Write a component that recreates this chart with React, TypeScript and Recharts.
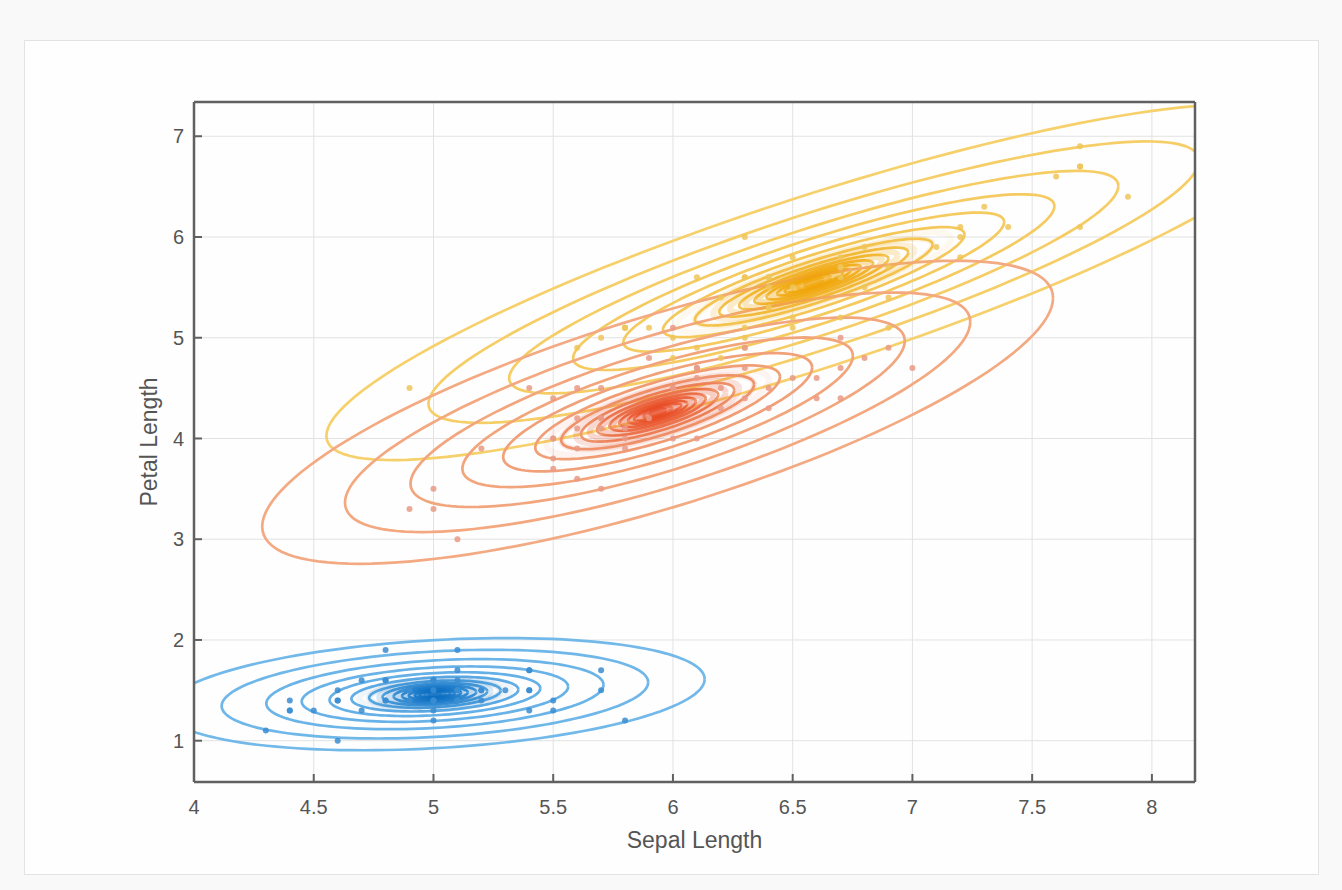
import { ComposedChart, Line, Scatter, XAxis, YAxis, CartesianGrid } from 'recharts';

// axis ticks
const xTicks = [4, 4.5, 5, 5.5, 6, 6.5, 7, 7.5, 8];
const yTicks = [1, 2, 3, 4, 5, 6, 7];

// iris measurements (sepal length, petal length) per species
const setosaSepal = [5.1, 4.9, 4.7, 4.6, 5.0, 5.4, 4.6, 5.0, 4.4, 4.9, 5.4, 4.8, 4.8, 4.3, 5.8, 5.7, 5.4, 5.1, 5.7, 5.1, 5.4, 5.1, 4.6, 5.1, 4.8, 5.0, 5.0, 5.2, 5.2, 4.7, 4.8, 5.4, 5.2, 5.5, 4.9, 5.0, 5.5, 4.9, 4.4, 5.1, 5.0, 4.5, 4.4, 5.0, 5.1, 4.8, 5.1, 4.6, 5.3, 5.0];
const setosaPetal = [1.4, 1.4, 1.3, 1.5, 1.4, 1.7, 1.4, 1.5, 1.4, 1.5, 1.5, 1.6, 1.4, 1.1, 1.2, 1.5, 1.3, 1.4, 1.7, 1.5, 1.7, 1.5, 1.0, 1.7, 1.9, 1.6, 1.6, 1.5, 1.4, 1.6, 1.6, 1.5, 1.5, 1.4, 1.5, 1.2, 1.3, 1.4, 1.3, 1.5, 1.3, 1.3, 1.3, 1.6, 1.9, 1.4, 1.6, 1.4, 1.5, 1.4];
const versicolorSepal = [7.0, 6.4, 6.9, 5.5, 6.5, 5.7, 6.3, 4.9, 6.6, 5.2, 5.0, 5.9, 6.0, 6.1, 5.6, 6.7, 5.6, 5.8, 6.2, 5.6, 5.9, 6.1, 6.3, 6.1, 6.4, 6.6, 6.8, 6.7, 6.0, 5.7, 5.5, 5.5, 5.8, 6.0, 5.4, 6.0, 6.7, 6.3, 5.6, 5.5, 5.5, 6.1, 5.8, 5.0, 5.6, 5.7, 5.7, 6.2, 5.1, 5.7];
const versicolorPetal = [4.7, 4.5, 4.9, 4.0, 4.6, 4.5, 4.7, 3.3, 4.6, 3.9, 3.5, 4.2, 4.0, 4.7, 3.6, 4.4, 4.5, 4.1, 4.5, 3.9, 4.8, 4.0, 4.9, 4.7, 4.3, 4.4, 4.8, 5.0, 4.5, 3.5, 3.8, 3.7, 3.9, 5.1, 4.5, 4.5, 4.7, 4.4, 4.1, 4.0, 4.4, 4.6, 4.0, 3.3, 4.2, 4.2, 4.2, 4.3, 3.0, 4.1];
const virginicaSepal = [6.3, 5.8, 7.1, 6.3, 6.5, 7.6, 4.9, 7.3, 6.7, 7.2, 6.5, 6.4, 6.8, 5.7, 5.8, 6.4, 6.5, 7.7, 7.7, 6.0, 6.9, 5.6, 7.7, 6.3, 6.7, 7.2, 6.2, 6.1, 6.4, 7.2, 7.4, 7.9, 6.4, 6.3, 6.1, 7.7, 6.3, 6.4, 6.0, 6.9, 6.7, 6.9, 5.8, 6.8, 6.7, 6.7, 6.3, 6.5, 6.2, 5.9];
const virginicaPetal = [6.0, 5.1, 5.9, 5.6, 5.8, 6.6, 4.5, 6.3, 5.8, 6.1, 5.1, 5.3, 5.5, 5.0, 5.1, 5.3, 5.5, 6.7, 6.9, 5.0, 5.7, 4.9, 6.7, 4.9, 5.7, 6.0, 4.8, 4.9, 5.6, 5.8, 6.1, 6.4, 5.6, 5.1, 5.6, 6.1, 5.6, 5.5, 4.8, 5.4, 5.6, 5.1, 5.1, 5.9, 5.7, 5.2, 5.0, 5.2, 5.4, 5.1];

// fitted gaussian per cluster (order: setosa, versicolor, virginica)
const meanSepal = [5.006, 5.936, 6.588];
const meanPetal = [1.462, 4.26, 5.552];
const sdSepal = [0.352, 0.516, 0.636];
const sdPetal = [0.174, 0.47, 0.552];
const correlation = [0.267, 0.754, 0.864];

// contour levels as mahalanobis radii
const contourRadii = [3.2, 2.53, 2.0, 1.58, 1.25, 0.99, 0.78, 0.62, 0.49, 0.39, 0.31, 0.24, 0.19];
const coreRadii = [0.9, 0.78, 0.66, 0.55, 0.45, 0.36, 0.28, 0.21, 0.15, 0.1, 0.05];

const ringOuter = ['#72b9ea', '#f3aa82', '#f6d06a'];
const ringInner = ['#4a9ddd', '#ee9066', '#f3bd46'];
const coreColor = ['#0a6dc3', '#e8421c', '#f0a300'];
const dotColor = ['#3a8dd2', '#e99a86', '#efc65a'];

const points = [
  setosaSepal.map((x, i) => ({ x, y: setosaPetal[i] })),
  versicolorSepal.map((x, i) => ({ x, y: versicolorPetal[i] })),
  virginicaSepal.map((x, i) => ({ x, y: virginicaPetal[i] })),
];

function ellipse(k: number, r: number) {
  const pts: { x: number; y: number }[] = [];
  const rho = correlation[k];
  const c = Math.sqrt(1 - rho * rho);
  const n = 140;
  for (let i = 0; i <= n; i++) {
    const t = (i / n) * Math.PI * 2;
    pts.push({
      x: meanSepal[k] + r * sdSepal[k] * Math.cos(t),
      y: meanPetal[k] + r * sdPetal[k] * (rho * Math.cos(t) + c * Math.sin(t)),
    });
  }
  return pts;
}

function mix(a: string, b: string, t: number) {
  const pa = [1, 3, 5].map((i) => parseInt(a.slice(i, i + 2), 16));
  const pb = [1, 3, 5].map((i) => parseInt(b.slice(i, i + 2), 16));
  return 'rgb(' + pa.map((v, i) => Math.round(v + (pb[i] - v) * t)).join(',') + ')';
}

const drawOrder = [0, 2, 1];

export default function App() {
  const axisColor = '#606060';
  const tickStyle = { fill: '#555', fontSize: 20 };

  return (
    <div style={{ position: 'absolute', left: 0, top: 0, width: 1342, height: 890, background: '#f9f9f9', fontFamily: '"Liberation Sans", Arial, sans-serif' }}>
      <div style={{ position: 'absolute', left: 24, top: 40, width: 1293, height: 833, border: '1px solid #e3e3e3', background: '#fefefe' }} />
      <div style={{ position: 'absolute', left: 0, top: 0 }}>
        <ComposedChart width={1342} height={890} margin={{ top: 100, right: 145, bottom: 38, left: 134 }}>
          <CartesianGrid stroke="#e2e2e2" strokeWidth={1} />
          <XAxis
            type="number"
            dataKey="x"
            domain={[4, 8.18]}
            ticks={xTicks}
            interval={0}
            allowDataOverflow
            height={70}
            tickSize={-8}
            tickMargin={26}
            tick={tickStyle}
            axisLine={{ stroke: axisColor, strokeWidth: 2.5 }}
            tickLine={{ stroke: axisColor, strokeWidth: 2 }}
            label={{ value: 'Sepal Length', position: 'insideBottom', offset: 4, style: { fill: '#555', fontSize: 23 } }}
          />
          <XAxis
            xAxisId="top"
            orientation="top"
            type="number"
            dataKey="x"
            domain={[4, 8.18]}
            ticks={xTicks}
            interval={0}
            allowDataOverflow
            height={2}
            tickSize={-8}
            tick={false}
            axisLine={{ stroke: axisColor, strokeWidth: 2.5 }}
            tickLine={{ stroke: axisColor, strokeWidth: 2 }}
          />
          <YAxis
            type="number"
            dataKey="y"
            domain={[0.59, 7.34]}
            ticks={yTicks}
            interval={0}
            allowDataOverflow
            width={60}
            tickSize={-8}
            tickMargin={18}
            tick={tickStyle}
            axisLine={{ stroke: axisColor, strokeWidth: 2.5 }}
            tickLine={{ stroke: axisColor, strokeWidth: 2 }}
            label={{ value: 'Petal Length', angle: -90, position: 'insideLeft', offset: 15, style: { textAnchor: 'middle', fill: '#555', fontSize: 23 } }}
          />
          <YAxis
            yAxisId="right"
            orientation="right"
            type="number"
            dataKey="y"
            domain={[0.59, 7.34]}
            ticks={yTicks}
            interval={0}
            allowDataOverflow
            width={2}
            tickSize={-8}
            tick={false}
            axisLine={{ stroke: axisColor, strokeWidth: 2.5 }}
            tickLine={{ stroke: axisColor, strokeWidth: 2 }}
          />

          {drawOrder.map((k) =>
            contourRadii.map((r, j) => (
              <Line
                key={`c-${k}-${j}`}
                data={ellipse(k, r)}
                dataKey="y"
                type="linear"
                stroke={mix(ringOuter[k], ringInner[k], j / (contourRadii.length - 1))}
                strokeWidth={2.7}
                dot={false}
                activeDot={false}
                legendType="none"
                isAnimationActive={false}
              />
            ))
          )}
          {drawOrder.map((k) =>
            coreRadii.map((r, j) => (
              <Line
                key={`k-${k}-${j}`}
                data={ellipse(k, r)}
                dataKey="y"
                type="linear"
                stroke={coreColor[k]}
                strokeOpacity={0.06 + 0.5 * (j / (coreRadii.length - 1))}
                strokeWidth={6}
                dot={false}
                activeDot={false}
                legendType="none"
                isAnimationActive={false}
              />
            ))
          )}
          {drawOrder.map((k) => (
            <Scatter
              key={`p-${k}`}
              data={points[k]}
              dataKey="y"
              isAnimationActive={false}
              shape={(p: any) => <circle cx={p.cx} cy={p.cy} r={3} fill={dotColor[k]} fillOpacity={0.85} />}
            />
          ))}
        </ComposedChart>
      </div>
    </div>
  );
}
